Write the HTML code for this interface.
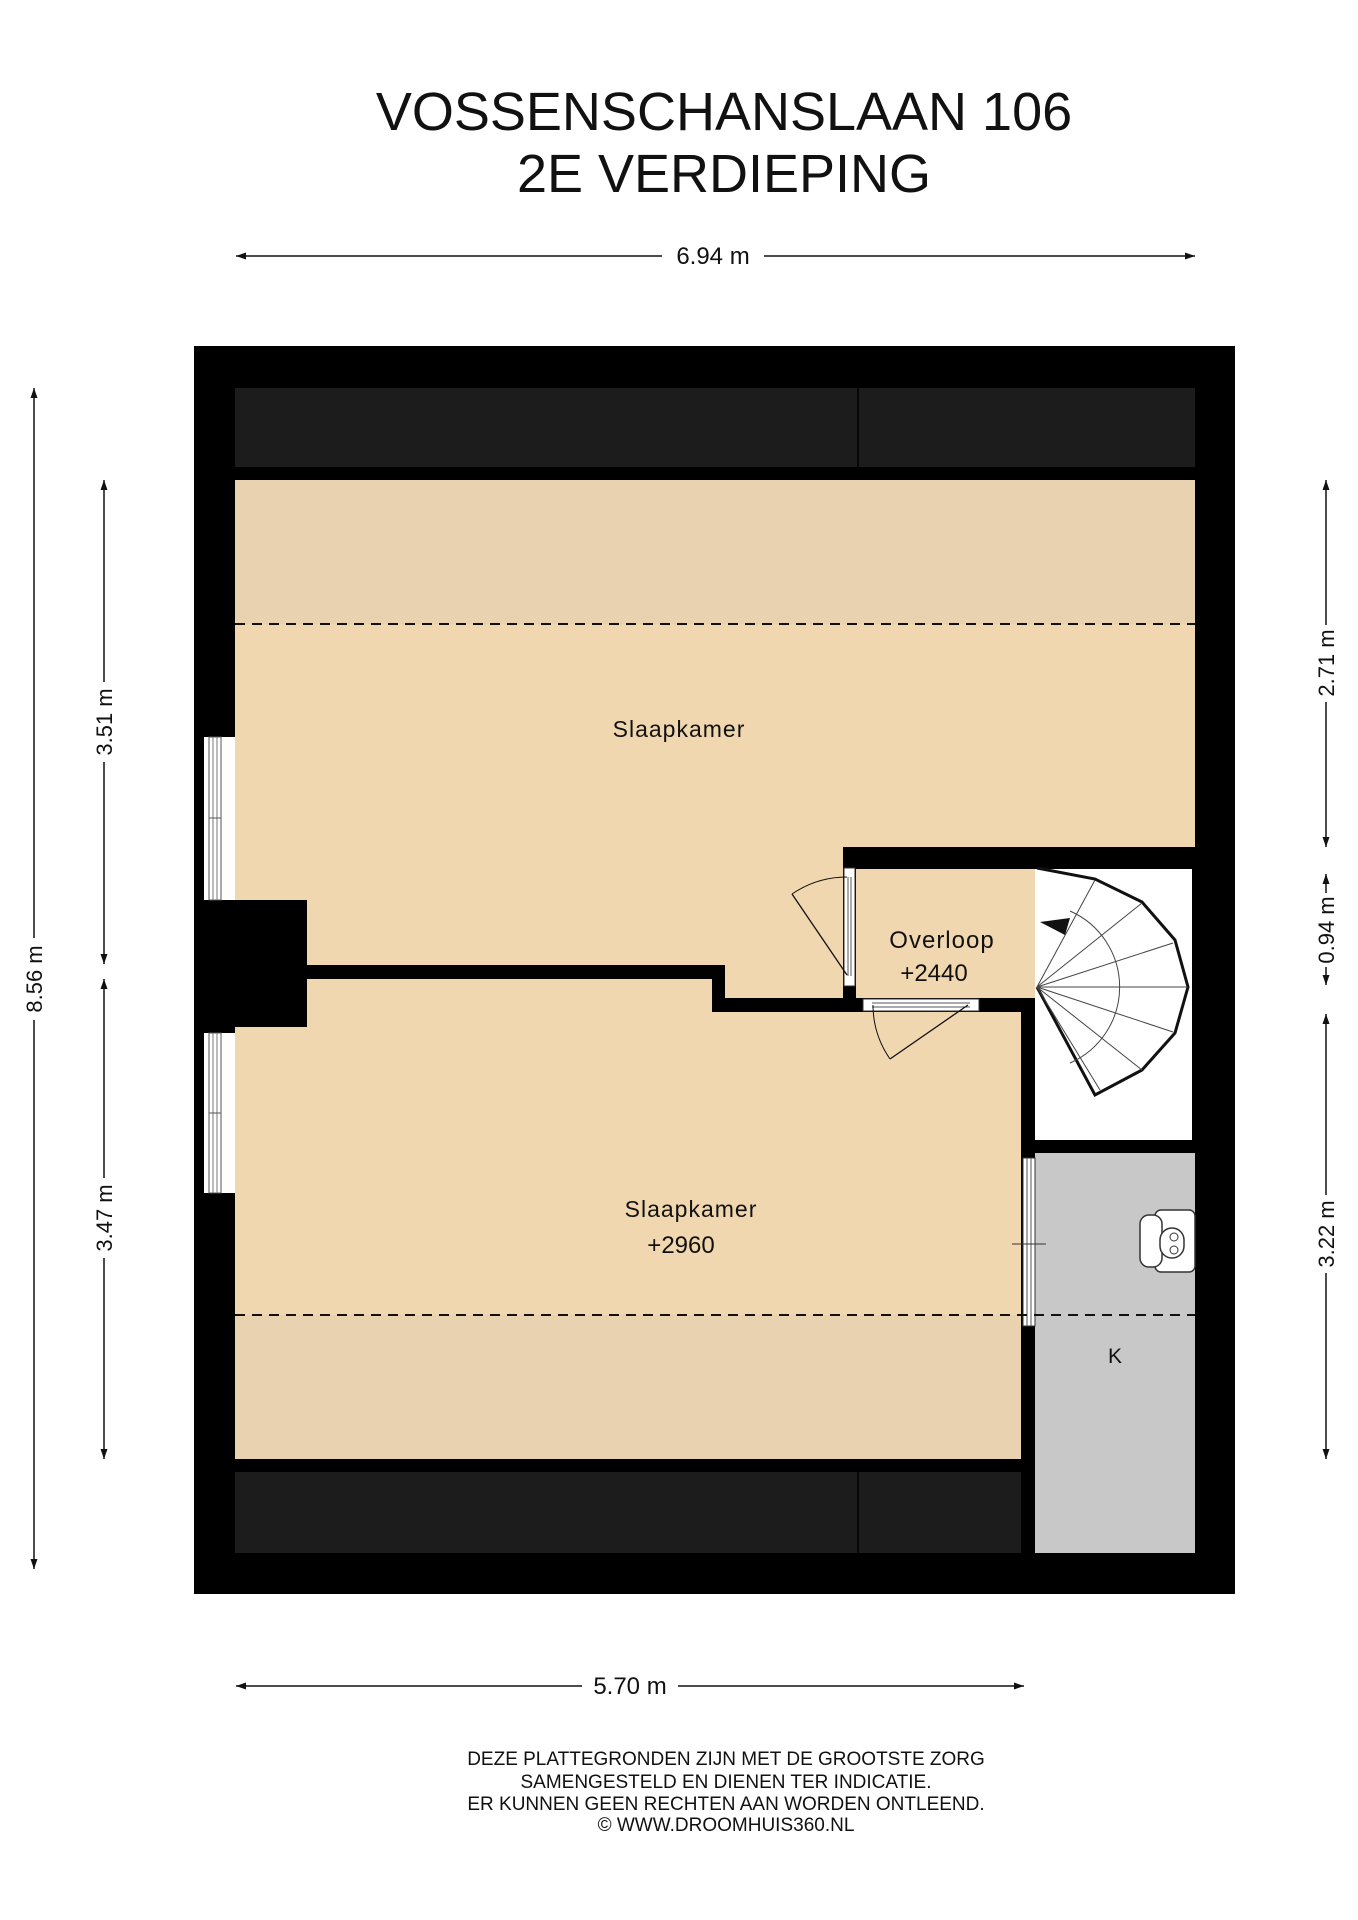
<!DOCTYPE html>
<html><head><meta charset="utf-8"><style>
html,body{margin:0;padding:0;background:#fff}
svg{display:block}
text{font-family:"Liberation Sans",sans-serif;fill:#111}
</style></head><body>
<svg width="1358" height="1920" viewBox="0 0 1358 1920" xmlns="http://www.w3.org/2000/svg">
<defs>
<marker id="ar" viewBox="0 0 10 10" refX="10" refY="5" markerWidth="10" markerHeight="10" orient="auto-start-reverse" markerUnits="userSpaceOnUse"><path d="M0,1.5 L10,5 L0,8.5 Z" fill="#111"/></marker>
</defs>
<text x="724" y="130" font-size="54" text-anchor="middle">VOSSENSCHANSLAAN 106</text>
<text x="724" y="192" font-size="54" text-anchor="middle">2E VERDIEPING</text>

<line x1="236" y1="256" x2="662" y2="256" stroke="#111" stroke-width="1.5" marker-start="url(#ar)"/>
<line x1="764" y1="256" x2="1195" y2="256" stroke="#111" stroke-width="1.5" marker-end="url(#ar)"/>
<text x="713" y="264" font-size="24" text-anchor="middle">6.94 m</text>

<rect x="194" y="346" width="1041" height="1248" fill="#000"/>
<rect x="235" y="388" width="960" height="79" fill="#1c1c1c"/>
<line x1="858" y1="388" x2="858" y2="467" stroke="#000" stroke-width="1.5"/>
<rect x="235" y="480" width="960" height="367" fill="#f1d7b0"/>
<rect x="235" y="480" width="960" height="144" fill="#e8d2b0"/>
<rect x="235" y="847" width="608" height="118" fill="#f1d7b0"/>
<rect x="725" y="960" width="118" height="38" fill="#f1d7b0"/>
<rect x="856" y="869" width="179" height="129" fill="#f1d7b0"/>
<rect x="1035" y="869" width="157" height="271" fill="#fff"/>
<rect x="235" y="979" width="477" height="480" fill="#f1d7b0"/>
<rect x="712" y="1012" width="309" height="447" fill="#f1d7b0"/>
<rect x="235" y="1315" width="786" height="144" fill="#e8d2b0"/>
<rect x="1035" y="1153" width="160" height="400" fill="#c8c8c8"/>
<rect x="235" y="1472" width="786" height="81" fill="#1c1c1c"/>
<line x1="858" y1="1472" x2="858" y2="1553" stroke="#000" stroke-width="1.5"/>

<rect x="235" y="965" width="490" height="14" fill="#000"/>
<rect x="712" y="965" width="13" height="47" fill="#000"/>
<rect x="712" y="998" width="151" height="14" fill="#000"/>
<rect x="979" y="998" width="56" height="14" fill="#000"/>
<rect x="1021" y="998" width="14" height="160" fill="#000"/>
<rect x="843" y="856" width="352" height="13" fill="#000"/>
<rect x="843" y="856" width="13" height="156" fill="#000"/>
<rect x="1021" y="1140" width="174" height="13" fill="#000"/>
<rect x="1021" y="1326" width="14" height="227" fill="#000"/>
<rect x="194" y="900" width="113" height="127" fill="#000"/>

<rect x="204" y="737" width="31" height="163" fill="#fff"/>
<rect x="209" y="737" width="12" height="163" fill="#fff" stroke="#555" stroke-width="1"/>
<line x1="213" y1="737" x2="213" y2="900" stroke="#777" stroke-width="1"/>
<line x1="217" y1="737" x2="217" y2="900" stroke="#777" stroke-width="1"/>
<line x1="209" y1="818" x2="221" y2="818" stroke="#555"/>
<rect x="204" y="1033" width="31" height="160" fill="#fff"/>
<rect x="209" y="1033" width="12" height="160" fill="#fff" stroke="#555" stroke-width="1"/>
<line x1="213" y1="1033" x2="213" y2="1193" stroke="#777"/>
<line x1="217" y1="1033" x2="217" y2="1193" stroke="#777"/>
<line x1="209" y1="1113" x2="221" y2="1113" stroke="#555"/>

<rect x="844" y="868" width="11" height="118" fill="#fff" stroke="#333" stroke-width="1"/>
<line x1="848" y1="877" x2="848" y2="976" stroke="#555"/>
<line x1="851" y1="877" x2="851" y2="976" stroke="#555"/>
<line x1="847" y1="975" x2="792" y2="894" stroke="#111" stroke-width="1.3"/>
<path d="M792,894 A98,98 0 0 1 847,877" fill="none" stroke="#111" stroke-width="1"/>
<rect x="863" y="999" width="116" height="12" fill="#fff" stroke="#333" stroke-width="1"/>
<line x1="872" y1="1003" x2="970" y2="1003" stroke="#555"/>
<line x1="872" y1="1007" x2="970" y2="1007" stroke="#555"/>
<line x1="968" y1="1005" x2="890" y2="1059" stroke="#111" stroke-width="1.3"/>
<path d="M890,1059 A95,95 0 0 1 873,1005" fill="none" stroke="#111" stroke-width="1"/>

<rect x="1023" y="1158" width="12" height="168" fill="#fff" stroke="#333" stroke-width="1"/>
<line x1="1027" y1="1158" x2="1027" y2="1326" stroke="#555"/>
<line x1="1031" y1="1158" x2="1031" y2="1326" stroke="#555"/>
<line x1="1012" y1="1244" x2="1046" y2="1244" stroke="#333" stroke-width="1"/>

<g stroke="#111" fill="none">
<polyline points="1037,868 1095,879 1142,902 1175,940 1188,987 1175,1033 1142,1070 1095,1095 1037,987" stroke-width="3" fill="#fff"/>
<g stroke-width="1" stroke="#444">
<line x1="1037" y1="987" x2="1095" y2="880"/>
<line x1="1037" y1="987" x2="1142" y2="903"/>
<line x1="1037" y1="987" x2="1173" y2="943"/>
<line x1="1037" y1="987" x2="1188" y2="987"/>
<line x1="1037" y1="987" x2="1173" y2="1032"/>
<line x1="1037" y1="987" x2="1142" y2="1070"/>
<line x1="1037" y1="987" x2="1100" y2="1090"/>
<path d="M1070,911 A83,83 0 0 1 1070,1063"/>
</g>
</g>
<path d="M1040,922 L1070,918 L1065,935 Z" fill="#111"/>

<rect x="1155" y="1210" width="40" height="62" rx="6" fill="#fff" stroke="#333" stroke-width="1.5"/>
<rect x="1140" y="1215" width="22" height="52" rx="9" fill="#fff" stroke="#333" stroke-width="1.5"/>
<rect x="1160" y="1228" width="24" height="30" rx="12" fill="#fff" stroke="#333" stroke-width="1.5"/>
<circle cx="1174" cy="1237" r="4" fill="none" stroke="#333"/>
<circle cx="1174" cy="1250" r="4" fill="none" stroke="#333"/>

<line x1="235" y1="624" x2="1195" y2="624" stroke="#111" stroke-width="2" stroke-dasharray="10,7"/>
<line x1="235" y1="1315" x2="1195" y2="1315" stroke="#111" stroke-width="2" stroke-dasharray="10,7"/>

<text x="679" y="737" font-size="23" text-anchor="middle" letter-spacing="1">Slaapkamer</text>
<text x="942" y="948" font-size="24" text-anchor="middle" letter-spacing="1">Overloop</text>
<text x="934" y="981" font-size="24" text-anchor="middle">+2440</text>
<text x="691" y="1217" font-size="23" text-anchor="middle" letter-spacing="1">Slaapkamer</text>
<text x="681" y="1253" font-size="24" text-anchor="middle">+2960</text>
<text x="1115" y="1363" font-size="21" text-anchor="middle">K</text>

<line x1="1326" y1="480" x2="1326" y2="625" stroke="#111" stroke-width="1.5" marker-start="url(#ar)"/>
<line x1="1326" y1="702" x2="1326" y2="847" stroke="#111" stroke-width="1.5" marker-end="url(#ar)"/>
<text transform="translate(1334,663) rotate(-90)" font-size="22" text-anchor="middle">2.71 m</text>
<line x1="1326" y1="874" x2="1326" y2="893" stroke="#111" stroke-width="1.5" marker-start="url(#ar)"/>
<line x1="1326" y1="967" x2="1326" y2="985" stroke="#111" stroke-width="1.5" marker-end="url(#ar)"/>
<text transform="translate(1334,930) rotate(-90)" font-size="22" text-anchor="middle">0.94 m</text>
<line x1="1326" y1="1014" x2="1326" y2="1195" stroke="#111" stroke-width="1.5" marker-start="url(#ar)"/>
<line x1="1326" y1="1273" x2="1326" y2="1459" stroke="#111" stroke-width="1.5" marker-end="url(#ar)"/>
<text transform="translate(1334,1234) rotate(-90)" font-size="22" text-anchor="middle">3.22 m</text>

<line x1="104" y1="480" x2="104" y2="682" stroke="#111" stroke-width="1.5" marker-start="url(#ar)"/>
<line x1="104" y1="762" x2="104" y2="964" stroke="#111" stroke-width="1.5" marker-end="url(#ar)"/>
<text transform="translate(112,722) rotate(-90)" font-size="22" text-anchor="middle">3.51 m</text>
<line x1="104" y1="979" x2="104" y2="1178" stroke="#111" stroke-width="1.5" marker-start="url(#ar)"/>
<line x1="104" y1="1258" x2="104" y2="1459" stroke="#111" stroke-width="1.5" marker-end="url(#ar)"/>
<text transform="translate(112,1218) rotate(-90)" font-size="22" text-anchor="middle">3.47 m</text>
<line x1="34" y1="388" x2="34" y2="938" stroke="#111" stroke-width="1.5" marker-start="url(#ar)"/>
<line x1="34" y1="1020" x2="34" y2="1569" stroke="#111" stroke-width="1.5" marker-end="url(#ar)"/>
<text transform="translate(42,979) rotate(-90)" font-size="22" text-anchor="middle">8.56 m</text>

<line x1="236" y1="1686" x2="582" y2="1686" stroke="#111" stroke-width="1.5" marker-start="url(#ar)"/>
<line x1="678" y1="1686" x2="1024" y2="1686" stroke="#111" stroke-width="1.5" marker-end="url(#ar)"/>
<text x="630" y="1694" font-size="24" text-anchor="middle">5.70 m</text>

<text x="726" y="1765" font-size="19" text-anchor="middle">DEZE PLATTEGRONDEN ZIJN MET DE GROOTSTE ZORG</text>
<text x="726" y="1788" font-size="19" text-anchor="middle">SAMENGESTELD EN DIENEN TER INDICATIE.</text>
<text x="726" y="1810" font-size="19" text-anchor="middle">ER KUNNEN GEEN RECHTEN AAN WORDEN ONTLEEND.</text>
<text x="726" y="1831" font-size="19" text-anchor="middle">© WWW.DROOMHUIS360.NL</text>
</svg>
</body></html>
